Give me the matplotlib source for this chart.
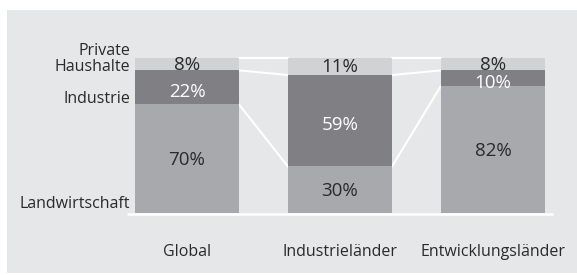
import numpy as np
import matplotlib.pyplot as plt
from matplotlib.patches import Rectangle

categories = ["Global", "Industrieländer", "Entwicklungsländer"]
segments = ["Landwirtschaft", "Industrie", "Private\nHaushalte"]
landwirtschaft = [70, 30, 82]
industrie = [22, 59, 10]
haushalte = [8, 11, 8]

c_land = "#a8a9ac"
c_ind = "#808084"
c_hh = "#d1d2d4"
c_bg = "#e6e7e9"
c_txt = "#2a2a2a"

plt.rcParams['font.family'] = ['Open Sans', 'DejaVu Sans']

fig = plt.figure(figsize=(5.77, 2.75), dpi=100)
fig.patch.set_facecolor("white")

ax = fig.add_axes([0, 0, 1, 1])
ax.set_facecolor("none")
ax.set_xlim(-1.222, 2.549)
ax.set_ylim(-40, 137.4)
ax.axis("off")
ax.add_patch(Rectangle((7 / 577, 2 / 275), 570 / 577, 263 / 275,
                       transform=fig.transFigure, facecolor=c_bg,
                       edgecolor="none", zorder=0))

x = np.arange(len(categories))
w = 0.68
land = np.array(landwirtschaft)
ind = np.array(industrie)
hh = np.array(haushalte)

ax.bar(x, land, w, color=c_land, zorder=2)
ax.bar(x, ind, w, bottom=land, color=c_ind, zorder=2)
ax.bar(x, hh, w, bottom=land + ind, color=c_hh, zorder=2)

# baseline
ax.plot([x[0] - w / 2 - 0.05, x[-1] + w / 2 + 0.05], [-0.6, -0.6],
        color="white", lw=1.8, zorder=1, solid_capstyle="butt")

# connectors between bars
levels = [land, land + ind, land + ind + hh]
for lv in levels:
    for i in range(len(x) - 1):
        ax.plot([x[i] + w / 2, x[i + 1] - w / 2], [lv[i], lv[i + 1]],
                color="white", lw=1.5, zorder=1)

# value labels
fs = 13.5
for i in range(len(x)):
    ax.text(x[i], land[i] / 2 - 1, f"{land[i]}%", ha="center", va="center",
            fontsize=fs, color=c_txt, zorder=3)
    ax.text(x[i], land[i] + ind[i] / 2 - 3, f"{ind[i]}%", ha="center",
            va="center", fontsize=fs, color="white", zorder=3)
    ax.text(x[i], land[i] + ind[i] + hh[i] / 2 - 0.3, f"{hh[i]}%",
            ha="center", va="center", fontsize=fs, color=c_txt, zorder=4)

# segment labels on the left
lx = x[0] - w / 2 - 0.03
ax.text(lx, 99.5, segments[2], ha="right", va="center", fontsize=11.5,
        color=c_txt, linespacing=1.0)
ax.text(lx, 73.5, segments[1], ha="right", va="center", fontsize=11.5,
        color=c_txt)
ax.text(lx, 5.5, segments[0], ha="right", va="center", fontsize=11.5,
        color=c_txt)

for i, c in enumerate(categories):
    ax.text(x[i], -25, c, ha="center", va="center", fontsize=11.5,
            color=c_txt)

fig.savefig("out.png", dpi=100)
